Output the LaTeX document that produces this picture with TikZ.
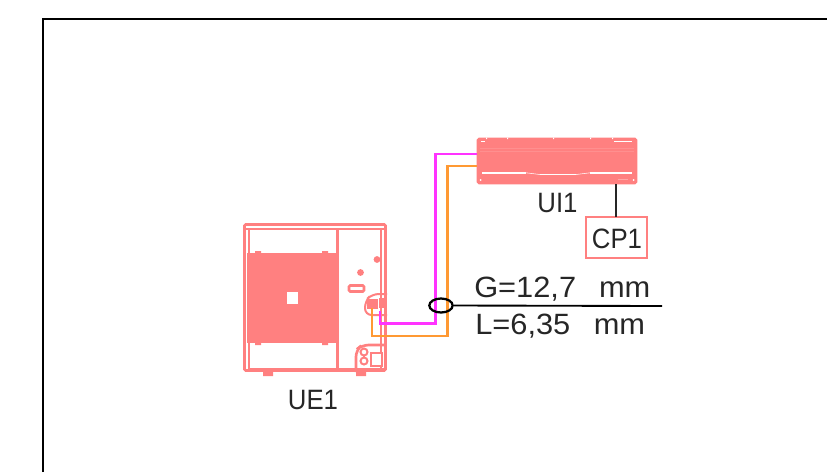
\documentclass[tikz,border=0pt]{standalone}
\usepackage{fontspec}
\setmainfont{Liberation Sans}
\newfontfamily\dimfont[FakeStretch=1.05]{Liberation Sans}
\newfontfamily\tagfont[FakeStretch=0.92]{Liberation Sans}
\usetikzlibrary{shapes.geometric}
\definecolor{unitred}{HTML}{FF8080}
\definecolor{pipemag}{HTML}{FF33FF}
\definecolor{pipeora}{HTML}{FF9933}
\tikzset{
  redline/.style={draw=unitred,line width=2pt},
  thinred/.style={draw=unitred,line width=1.5pt},
  redfill/.style={fill=unitred,draw=none},
  whitefill/.style={fill=white,draw=none},
  unitbox/.style={draw=unitred,line width=2pt,inner sep=0pt,outer sep=0pt,rounded corners=1pt},
  pipem/.style={draw=pipemag,line width=1.8pt},
  pipeo/.style={draw=pipeora,line width=1.8pt},
  blk/.style={draw=black!85,line width=1.2pt},
  lbl/.style={inner sep=0pt,font=\tagfont\fontsize{21}{21}\selectfont,text=black!85},
  dimlbl/.style={inner sep=0pt,font=\dimfont\fontsize{22}{22}\selectfont,text=black!85},
  whiteline/.style={draw=white,line width=1.2pt},
}
\begin{document}
\begin{tikzpicture}[x=0.75pt,y=-0.75pt]
\useasboundingbox (0,0) rectangle (827,472);
% frame
\draw[black,line width=1.5pt] (43,472) -- (43,19) -- (827,19);

% outdoor unit UE1
\node[unitbox,minimum width=105.75pt,minimum height=109.5pt,anchor=north west] (ue) at (244.5,224.5) {};
\draw[thinred] (243,229) -- (387,229);
\draw[thinred] (249,229) -- (249,369) -- (387,369);
\draw[redline] (337.5,229) -- (337.5,369);
\draw[thinred] (381,229) -- (381,369);
\path[redfill] (247,253) rectangle (337,343);
\path[redfill] (255,251) rectangle (261,254) (322,251) rectangle (328,254)
  (255,342) rectangle (261,345) (322,342) rectangle (328,345);
\path[whitefill] (287,292) rectangle (298,304);
\path[redfill] (377,259.5) circle (3.4);
\path[redfill] (360.5,272.5) circle (3.4);
\draw[redline,rounded corners=1pt,fill=white] (349,285.5) rectangle (364,291.5);
\draw[thinred,rounded corners=5pt] (387,294) -- (372,294) -- (365,301) -- (365,315) -- (387,315);
\path[redfill] (367,299) rectangle (378,309);
\path[redfill] (379,298) rectangle (386,308);
\draw[redline,rounded corners=5pt] (356,372) -- (356,350) -- (362,345) -- (386,345);
\draw[redline,fill=white] (371,353) rectangle (382,366);
\draw[thinred] (364,352) circle (3.5) (364,361) circle (3.5);
\path[redfill] (263,371) rectangle (273,376) (356,371) rectangle (366,376);
\node[lbl,anchor=base] (uelabel) at (313,409) {UE1};

% indoor unit UI1
\node[unitbox,fill=unitred,minimum width=118.5pt,minimum height=33pt,anchor=north west] (ui) at (478,139) {};
\draw[whiteline] (482,173) -- (526,173);
\draw[whiteline] (590,173) -- (632,173);
\draw[whiteline] (614,141.5) -- (632,141.5);
\draw[whiteline] (481,141.5) -- (485,141.5);
\draw[draw=white,line width=0.4pt] (526,172.8) -- (540,174.5) -- (576,174.5) -- (590,172.8);
\draw[draw=white!12!unitred,line width=0.5pt] (480,148) -- (634,148) (480,151) -- (634,151);
\draw[draw=white!30!unitred,line width=0.5pt] (618,179) -- (628,179);
\path[whitefill] (480.5,180) circle (1) (633.5,180) circle (1);
\path[whitefill] (486,137.5) rectangle (487,139) (507,137.5) rectangle (508,139)
  (553,137.5) rectangle (554,139) (590,137.5) rectangle (591,139) (612,137.5) rectangle (613,139);
\node[lbl,anchor=base] (uilabel) at (557.5,212) {UI1};

% control panel CP1
\node[draw=unitred,line width=2pt,minimum width=45.75pt,minimum height=30.75pt,anchor=north west,inner sep=0pt,outer sep=0pt] (cp) at (586,217) {};
\node[lbl,anchor=base] (cplabel) at (617,248) {CP1};
\coordinate (cptop) at (616,217);
\coordinate (uibot) at (616,184);
\draw[blk] (uibot) -- (cptop);

% pipes
\coordinate (mstart) at (477,154);
\coordinate (mb1) at (435.5,154);
\coordinate (mb2) at (435.5,323.5);
\coordinate (mb3) at (380,323.5);
\coordinate (mend) at (380,311);
\coordinate (ostart) at (477,166);
\coordinate (ob1) at (447.5,166);
\coordinate (ob2) at (447.5,336);
\coordinate (ob3) at (372,336);
\coordinate (oend) at (372,308);
\draw[pipem] (mstart) -- (mb1) -- (mb2) -- (mb3) -- (mend);
\draw[pipeo] (ostart) -- (ob1) -- (ob2) -- (ob3) -- (oend);

% ring and leader
\node[draw=black,line width=1.7pt,ellipse,minimum width=17.5pt,minimum height=10.5pt,inner sep=0pt] (ring) at (441,305.5) {};
\coordinate (leaderend) at (662,306);
\draw[black,line width=1.4pt] (ring.east) -- (leaderend);
\node[dimlbl,anchor=base west] (gas) at (474,297) {G=12,7\hspace{0.78em}mm};
\node[dimlbl,anchor=base west] (liq) at (475,334) {L=6,35\hspace{0.8em}mm};
\end{tikzpicture}
\end{document}
